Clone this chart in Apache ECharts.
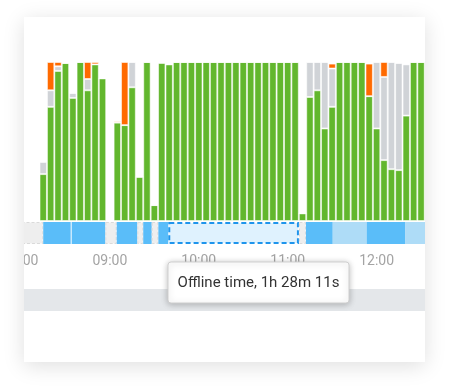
<!DOCTYPE html>
<html>
<head>
<meta charset="utf-8">
<script src="https://cdn.jsdelivr.net/npm/echarts@6/dist/echarts.min.js"></script>
<style>
  html, body { margin: 0; padding: 0; background: #ffffff; width: 449px; height: 392px; overflow: hidden; }
  #card { position: absolute; left: 24px; top: 17px; width: 401px; height: 345px; background: #fff;
          overflow: hidden; box-shadow: 0 4px 20px rgba(0,0,0,0.13); }
  #chart { position: absolute; left: -24px; top: -17px; width: 449px; height: 392px; }
</style>
</head>
<body>
<div id="card"><div id="chart"></div></div>
<script>
// ---- data ----
const slotTimes = ['08:15','08:20','08:25','08:30','08:35','08:40','08:45','08:50','08:55','09:00',
  '09:05','09:10','09:15','09:20','09:25','09:30','09:35','09:40','09:45','09:50',
  '09:55','10:00','10:05','10:10','10:15','10:20','10:25','10:30','10:35','10:40',
  '10:45','10:50','10:55','11:00','11:05','11:10','11:15','11:20','11:25','11:30',
  '11:35','11:40','11:45','11:50','11:55','12:00','12:05','12:10','12:15','12:20',
  '12:25','12:30'];
const activeVals = [29.5,71.8,94.4,99.4,77.4,100,82.2,98.5,89.7,0,
  61.9,60.3,84.1,27.8,100,10,99.5,98.5,100,100,
  100,100,100,100,100,100,100,100,100,100,
  100,100,100,100,100,4.8,78,82.2,58.2,71.8,
  100,100,100,100,78.5,58.2,38.3,32.6,32,66.3,
  100,100];
const idleVals = [7.7,10.4,2.9,0,3.1,0,7.1,0,0,0,
  0,0,15.9,0,0,0,0,0,0,0,
  0,0,0,0,0,0,0,0,0,0,
  0,0,0,0,0,0,22,17.8,41.8,24.1,
  0,0,0,0,0,41.8,52.3,67.4,67.4,32.2,
  0,0];
const alertVals = [0,17.8,2.7,0,0,0,10.7,1.5,0,0,
  0.8,39.7,0,0,0,0,0,0,0,0,
  0,0,0,0,0,0,0,0,0,0,
  0,0,0,0,0,0,0,0,0,3.1,
  0,0,0,0,20.5,0,9.4,0,0,0,
  0,0];
// status strip segments (times as HH:MM:SS)
const segStart = ['08:00:00','08:15:00','08:34:12','08:56:54','09:04:36','09:18:30','09:22:30','09:28:12','09:32:42','09:39:24','11:07:35','11:12:18','11:30:24','11:53:18','12:19:12'];
const segEnd   = ['08:15:00','08:34:12','08:56:54','09:04:36','09:18:30','09:22:30','09:28:12','09:32:42','09:39:24','11:07:35','11:12:18','11:30:24','11:53:18','12:19:12','12:40:00'];
const segType  = ['nodata','online','online','nodata','online','nodata','online','nodata','online','offline','nodata','online','idle','online','idle'];
const tickLabels = ['08:00','09:00','10:00','11:00','12:00','13:00'];
const tooltipText = 'Offline time, 1h 28m 11s';

// ---- helpers ----
const ORIGIN = 8 * 60;
const X_MIN = 0, X_MAX = 280, SLOT = 5;
function toMin(s) {
  const p = s.split(':').map(Number);
  return p[0] * 60 + p[1] + (p[2] || 0) / 60 - ORIGIN;
}
function fmt(m) {
  const t = m + ORIGIN;
  return String(Math.floor(t / 60)).padStart(2, '0') + ':' + String(t % 60).padStart(2, '0');
}
// full 5-minute category list across the axis range
const categories = [];
for (let m = X_MIN; m <= X_MAX; m += SLOT) categories.push(fmt(m));
function expand(vals) {
  const out = categories.map(() => null);
  slotTimes.forEach((t, i) => { out[categories.indexOf(t)] = vals[i]; });
  return out;
}
const segData = segStart.map((s, i) => [toMin(s), toMin(segEnd[i]), i]);

const gridLeft = 21, gridRight = 449 - (21 + 280 * (88.9 / 60));

const chart = echarts.init(document.getElementById('chart'), null, { renderer: 'canvas' });
const border = { borderColor: 'rgba(255,255,255,0.55)', borderWidth: 1 };
const barCommon = { type: 'bar', stack: 'u', xAxisIndex: 0, yAxisIndex: 0, barWidth: 7.4, silent: true };
chart.setOption({
  animation: false,
  grid: [
    { left: gridLeft, right: gridRight, top: 62, bottom: 171 },
    { left: gridLeft, right: gridRight, top: 222, height: 22 }
  ],
  xAxis: [
    { gridIndex: 0, type: 'category', data: categories, boundaryGap: false, show: false },
    { gridIndex: 1, type: 'value', min: X_MIN, max: X_MAX, interval: 60,
      axisLine: { show: false }, axisTick: { show: false }, splitLine: { show: false },
      axisLabel: { margin: 10, color: '#a4a4a4', fontSize: 14, fontFamily: 'Roboto',
        showMaxLabel: false,
        formatter: v => tickLabels[Math.round(v / 60)] } }
  ],
  yAxis: [
    { gridIndex: 0, type: 'value', min: 0, max: 100, show: false },
    { gridIndex: 1, type: 'value', min: 0, max: 1, show: false }
  ],
  series: [
    Object.assign({ name: 'active', data: expand(activeVals),
      itemStyle: Object.assign({ color: '#62b72d' }, border) }, barCommon),
    Object.assign({ name: 'idle', data: expand(idleVals),
      itemStyle: Object.assign({ color: '#d0d3d7' }, border) }, barCommon),
    Object.assign({ name: 'alert', data: expand(alertVals),
      itemStyle: Object.assign({ color: '#ff6a00' }, border) }, barCommon),
    {
      type: 'custom', xAxisIndex: 1, yAxisIndex: 1, silent: true, clip: true,
      encode: { x: [0, 1] },
      data: segData,
      renderItem: function (params, api) {
        const i = api.value(2);
        const t = segType[i];
        const p0 = api.coord([api.value(0), 1]);
        const p1 = api.coord([api.value(1), 0]);
        let x = p0[0], y = p0[1], w = p1[0] - p0[0], h = p1[1] - p0[1];
        if (t === 'online' || t === 'idle') {
          const next = segType[i + 1];
          if (next === t) w -= 1;
          return { type: 'rect', shape: { x, y, width: w, height: h },
            style: { fill: t === 'online' ? '#5abdf9' : '#aedcf7' } };
        }
        if (t === 'offline') {
          return { type: 'rect', shape: { x: x + 1, y: y + 1, width: w - 2, height: h - 2 },
            style: { fill: '#dff2fe', stroke: '#1f95ec', lineWidth: 2, lineDash: [5, 3] } };
        }
        return { type: 'rect', shape: { x: x + 0.5, y: y + 0.5, width: w - 1, height: h - 1 },
          style: { fill: '#eeeeee', stroke: '#dadada', lineWidth: 1, lineDash: [3, 2] } };
      }
    }
  ],
  graphic: [
    { type: 'rect', z: 1, silent: true, shape: { x: 0, y: 289, width: 449, height: 22 },
      style: { fill: '#e4e7ea' } },
    { type: 'rect', z: 300, silent: true, shape: { x: 168, y: 262, width: 181, height: 41, r: 3 },
      style: { fill: '#ffffff', stroke: '#cfcfcf', lineWidth: 1,
        shadowBlur: 6, shadowColor: 'rgba(0,0,0,0.25)', shadowOffsetY: 1 } },
    { type: 'text', z: 301, silent: true, x: 258.5, y: 283,
      style: { text: tooltipText, fill: '#333333', font: '15px Roboto',
        align: 'center', verticalAlign: 'middle' } }
  ]
});
</script>
</body>
</html>
